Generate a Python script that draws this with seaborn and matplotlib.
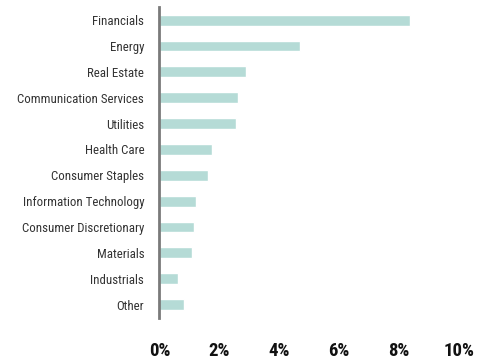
import matplotlib
matplotlib.use("Agg")
import matplotlib.pyplot as plt
from matplotlib import font_manager
import seaborn as sns
import pandas as pd

sectors = ["Financials", "Energy", "Real Estate", "Communication Services",
           "Utilities", "Health Care", "Consumer Staples",
           "Information Technology", "Consumer Discretionary", "Materials",
           "Industrials", "Other"]
weights = [8.35, 4.68, 2.88, 2.62, 2.55, 1.75, 1.62, 1.22, 1.15, 1.08, 0.62, 0.82]
tick_values = [0, 2, 4, 6, 8, 10]
tick_labels = ["0%", "2%", "4%", "6%", "8%", "10%"]

sns.set_style("white")
names = {f.name for f in font_manager.fontManager.ttflist}
candidates = ["Roboto Condensed", "Open Sans Condensed", "Liberation Sans Narrow",
              "Roboto", "DejaVu Sans"]
label_font = next(n for n in candidates if n in names or n == "DejaVu Sans")
plt.rcParams["font.family"] = [label_font, "DejaVu Sans"]

df = pd.DataFrame({"sector": sectors, "weight": weights})

fig = plt.figure(figsize=(4.85, 3.62), dpi=100)
ax = fig.add_axes([159.5 / 485, 1 - 318 / 362, (459 - 159.5) / 485, (318 - 7) / 362])

sns.barplot(data=df, x="weight", y="sector", orient="h", color="#b5dbd6",
            saturation=1, width=0.42, ax=ax)

ax.set_xlim(0, 10)
ax.set_ylim(11.52, -0.51)
ax.set_xticks(tick_values)
ax.set_xticklabels(tick_labels, fontsize=13.5, fontweight="bold", color="#111111")
ax.tick_params(axis="x", length=0, pad=17)
ax.tick_params(axis="y", length=0, pad=11)
for lbl in ax.get_yticklabels():
    lbl.set_fontsize(9.3)
    lbl.set_color("#333333")
ax.set_xlabel("")
ax.set_ylabel("")
for side in ["top", "right", "bottom"]:
    ax.spines[side].set_visible(False)
ax.spines["left"].set_color("#7a7a7a")
ax.spines["left"].set_linewidth(2)

fig.savefig("out.png", dpi=100)
